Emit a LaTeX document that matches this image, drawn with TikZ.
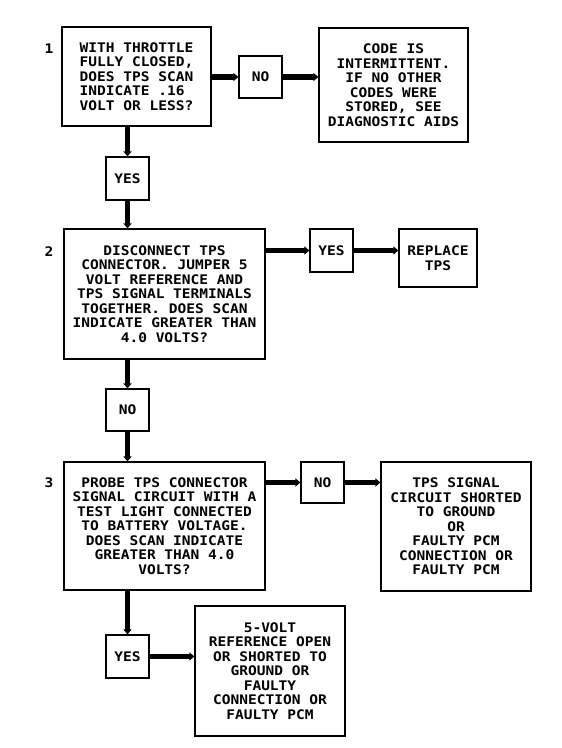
\documentclass[tikz,border=0pt]{standalone}
\usepackage{fontspec}
\newfontfamily\plotfont[FakeStretch=1.1]{DejaVu Sans Mono Bold}
\usetikzlibrary{arrows.meta}
\begin{document}
\begin{tikzpicture}[x=1pt,y=-1pt,
  every node/.style={font=\plotfont\fontsize{13.2}{14.5}\selectfont, inner sep=0pt},
  box/.style={draw, line width=1.2pt, align=center},
  lbox/.style={draw, line width=1.2pt, align=left},
  ans/.style={draw, line width=1.2pt, minimum width=43pt, minimum height=43pt},
  flow/.style={line width=5.5pt, -{Triangle[length=5pt,width=8pt]}},
  num/.style={anchor=center}]
\useasboundingbox (0,0) rectangle (562,748);
% step 1
\node[lbox, minimum width=149pt, minimum height=99pt] (b1) at (136.5,76.5)
  {WITH THROTTLE\\FULLY CLOSED,\\DOES TPS SCAN\\INDICATE .16\\VOLT OR LESS?};
\node[num] (n1) at (49,49) {1};
\node[ans, minimum height=42pt] (no1) at (260.5,77) {NO};
\node[box, minimum width=149pt, minimum height=114pt] (c1) at (393.5,85)
  {CODE IS\\INTERMITTENT.\\IF NO OTHER\\CODES WERE\\STORED, SEE\\DIAGNOSTIC AIDS};
\node[ans] (y1) at (127.5,178.5) {YES};
% step 2
\node[box, minimum width=201pt, minimum height=130pt] (b2) at (164.5,294)
  {DISCONNECT TPS\\CONNECTOR. JUMPER 5\\VOLT REFERENCE AND\\TPS SIGNAL TERMINALS\\TOGETHER. DOES SCAN\\INDICATE GREATER THAN\\4.0 VOLTS?};
\node[num] (n2) at (49,252) {2};
\node[ans] (y2) at (331.5,250.5) {YES};
\node[box, minimum width=78pt, minimum height=58pt] (r2) at (438,258)
  {REPLACE\\TPS};
\node[ans, minimum height=42pt] (no2) at (127.5,410) {NO};
% step 3
\node[box, minimum width=201pt, minimum height=128pt] (b3) at (164.5,526)
  {PROBE TPS CONNECTOR\\SIGNAL CIRCUIT WITH A\\TEST LIGHT CONNECTED\\TO BATTERY VOLTAGE.\\DOES SCAN INDICATE\\GREATER THAN 4.0\\VOLTS?};
\node[num] (n3) at (49,483) {3};
\node[ans, minimum height=41pt] (no3) at (322.5,482.5) {NO};
\node[box, minimum width=150pt, minimum height=129pt] (t3) at (456,526.5)
  {TPS SIGNAL\\CIRCUIT SHORTED\\TO GROUND\\OR\\FAULTY PCM\\CONNECTION OR\\FAULTY PCM};
\node[ans] (y3) at (127.5,656.5) {YES};
\node[box, minimum width=150pt, minimum height=130pt] (v3) at (270,671)
  {5-VOLT\\REFERENCE OPEN\\OR SHORTED TO\\GROUND OR\\FAULTY\\CONNECTION OR\\FAULTY PCM};
% connectors
\draw[flow] (b1.east |- no1.west) -- (no1.west);
\draw[flow] (no1.east) -- (no1.east -| c1.west);
\draw[flow] (b1.south -| y1.north) -- (y1.north);
\draw[flow] (y1.south) -- (y1.south |- b2.north);
\draw[flow] (b2.east |- y2.west) -- (y2.west);
\draw[flow] (y2.east) -- (y2.east -| r2.west);
\draw[flow] (b2.south -| no2.north) -- (no2.north);
\draw[flow] (no2.south) -- (no2.south |- b3.north);
\draw[flow] (b3.east |- no3.west) -- (no3.west);
\draw[flow] (no3.east) -- (no3.east -| t3.west);
\draw[flow] (b3.south -| y3.north) -- (y3.north);
\draw[flow] (y3.east) -- (y3.east -| v3.west);
\end{tikzpicture}
\end{document}
